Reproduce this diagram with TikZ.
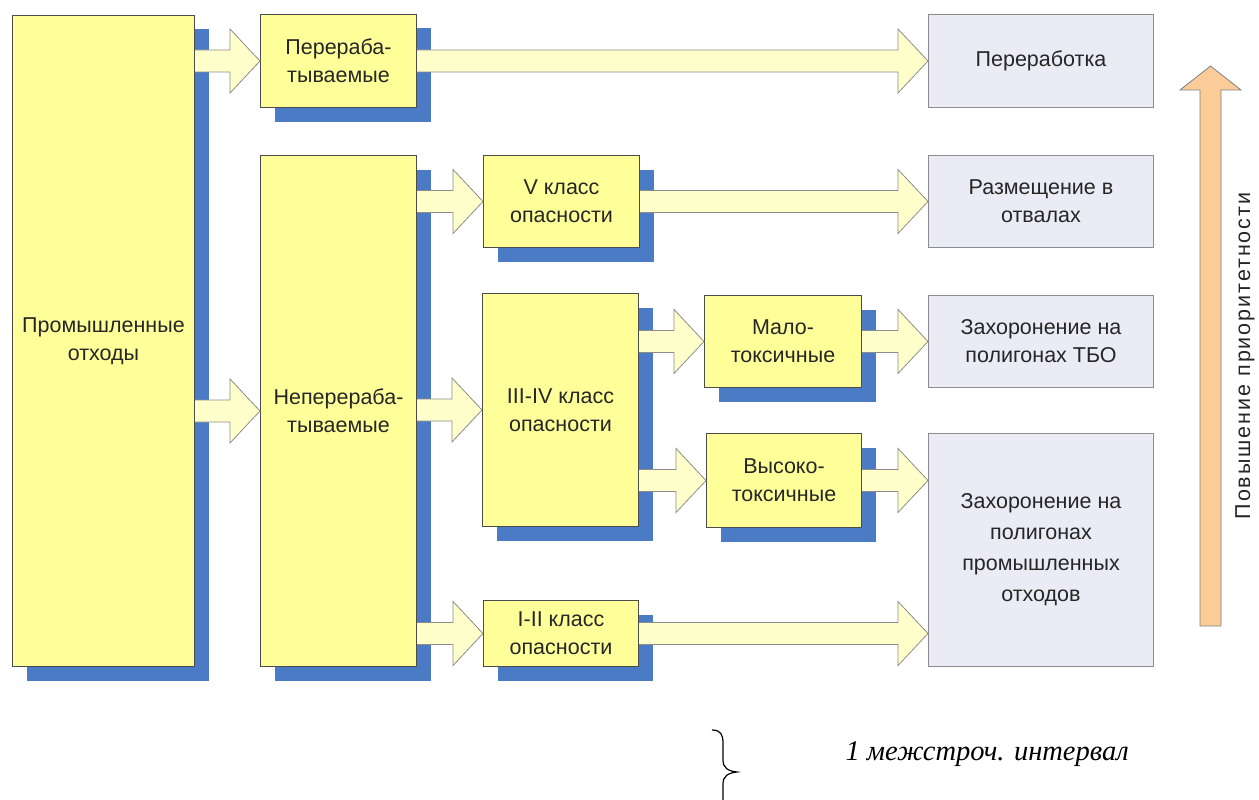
\documentclass[tikz,border=0pt]{standalone}
\usepackage{fontspec}
\setmainfont{Liberation Sans}
\newfontfamily\noteserif{Liberation Serif}
\newfontfamily\spacedsans[LetterSpace=9]{Liberation Sans}
\usetikzlibrary{calc,shadows}
\definecolor{boxyellow}{HTML}{FFFF99}
\definecolor{shadowblue}{HTML}{4A7BC4}
\definecolor{arrowfill}{HTML}{FFFFCC}
\definecolor{grayfill}{HTML}{EBEBF5}
\definecolor{prioorange}{HTML}{FBCB98}
\newcommand\boxfont{\fontsize{21.5}{28}\selectfont}
\newcommand{\blockarrow}[2]{%
  \fill[arrowfill] let \p1=#1, \p2=#2 in
    (\x1,\y1+11pt) -- (\x2-30pt,\y1+11pt) -- (\x2-30pt,\y1+32pt) -- (\x2,\y1) --
    (\x2-30pt,\y1-32pt) -- (\x2-30pt,\y1-11pt) -- (\x1,\y1-11pt) -- cycle;
  \draw[arrowline] let \p1=#1, \p2=#2 in
    (\x1,\y1+11pt) -- (\x2-30pt,\y1+11pt) -- (\x2-30pt,\y1+32pt) -- (\x2,\y1) --
    (\x2-30pt,\y1-32pt) -- (\x2-30pt,\y1-11pt) -- (\x1,\y1-11pt);
}
\tikzset{
  ybox/.style={draw=black!70, line width=1pt, fill=boxyellow, anchor=north west,
    align=center, font=\boxfont, text=black!85, inner sep=0pt,
    drop shadow={shadow xshift=14pt, shadow yshift=-14pt, fill=shadowblue, opacity=1}},
  gbox/.style={draw=black!45, line width=1pt, fill=grayfill, anchor=north west,
    align=center, font=\boxfont, text=black!85, inner sep=0pt},
  arrowline/.style={draw=black!45, line width=0.8pt, line join=miter},
}
\begin{document}
\begin{tikzpicture}[x=1pt,y=-1pt]
\useasboundingbox (0,0) rectangle (1259,800);
\fill[white] (0,0) rectangle (1259,800);
% left column
\node[ybox, minimum width=182pt, minimum height=651pt] (pro) at (12,15) {Промышленные\\отходы};
\node[ybox, minimum width=156pt, minimum height=93pt] (per) at (260,14) {Перераба-\\тываемые};
\node[ybox, minimum width=156pt, minimum height=511pt] (nep) at (260,155) {Неперераба-\\тываемые};
\node[ybox, minimum width=156pt, minimum height=92pt] (v5) at (483,155) {V класс\\опасности};
\node[ybox, minimum width=156pt, minimum height=233pt] (k34) at (482,293) {III-IV класс\\опасности};
\node[ybox, minimum width=155pt, minimum height=66pt] (k12) at (483,600) {I-II класс\\опасности};
\node[ybox, minimum width=157pt, minimum height=92pt] (malo) at (704,295) {Мало-\\токсичные};
\node[ybox, minimum width=155pt, minimum height=94pt] (vys) at (706,433) {Высоко-\\токсичные};
% right column
\node[gbox, minimum width=225pt, minimum height=93pt] (r1) at (928,14) {Переработка};
\node[gbox, minimum width=225pt, minimum height=92pt] (r2) at (928,155) {Размещение в\\отвалах};
\node[gbox, minimum width=225pt, minimum height=92pt] (r3) at (928,295) {Захоронение на\\полигонах ТБО};
\node[gbox, minimum width=225pt, minimum height=233pt, font=\fontsize{21.5}{31}\selectfont] (r4) at (928,433) {Захоронение на\\полигонах\\промышленных\\отходов};
% block arrows
\blockarrow{(pro.east |- per.west)}{(per.west)}
\blockarrow{(pro.east |- nep.west)}{(nep.west)}
\blockarrow{(per.east)}{(r1.west |- per.east)}
\blockarrow{(nep.east |- v5.west)}{(v5.west)}
\blockarrow{(nep.east |- k34.west)}{(k34.west)}
\blockarrow{(nep.east |- k12.west)}{(k12.west)}
\blockarrow{(v5.east)}{(r2.west |- v5.east)}
\blockarrow{(k34.east |- malo.west)}{(malo.west)}
\blockarrow{(k34.east |- vys.west)}{(vys.west)}
\blockarrow{(malo.east)}{(r3.west |- malo.east)}
\blockarrow{(vys.east)}{(r4.west |- vys.east)}
\blockarrow{(k12.east)}{(r4.west |- k12.east)}
% priority arrow
\filldraw[fill=prioorange, draw=black!50, line width=0.8pt]
  (1200,626) -- (1200,90) -- (1180,90) -- (1210.5,66) -- (1241,90) -- (1221,90) -- (1221,626) -- cycle;
\node[rotate=90, font=\spacedsans\fontsize{21.5}{26}\selectfont, text=black!85] (prio) at (1245,356) {Повышение приоритетности};
% brace and note
\draw[line width=1.2pt] (712,730) .. controls (721,730) and (723,735) .. (723,743) -- (723,760)
  .. controls (723,768) and (728,771) .. (737,772) .. controls (728,773) and (723,776) .. (723,784) -- (723,800);
\node[font=\noteserif\itshape\fontsize{28.5}{32}\selectfont, anchor=west] (note) at (842,754) {1 межстроч. интервал};
\end{tikzpicture}
\end{document}
